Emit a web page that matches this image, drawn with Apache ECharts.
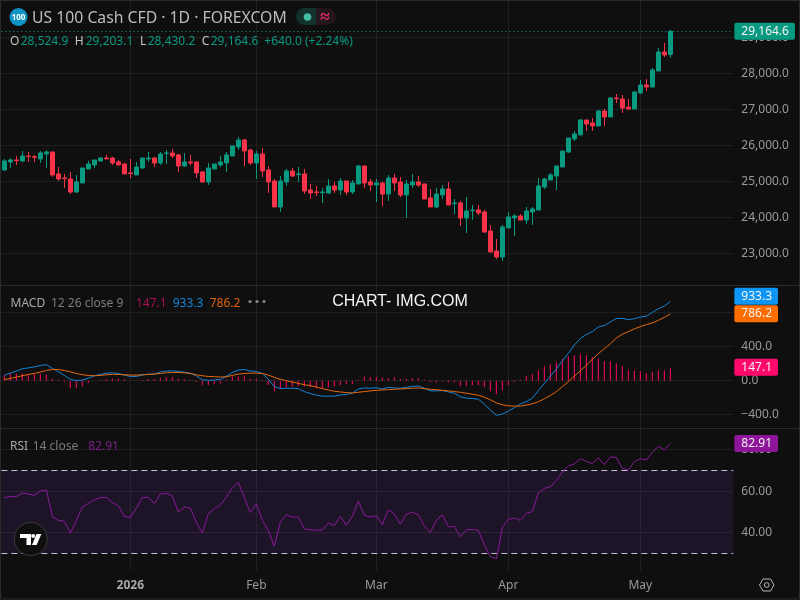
<!DOCTYPE html>
<html>
<head>
<meta charset="utf-8">
<style>html,body{margin:0;padding:0;background:#0f0f0f}#c{width:800px;height:600px}</style>
<script src="https://cdn.jsdelivr.net/npm/echarts@6/dist/echarts.min.js"></script>
</head>
<body>
<div id="c"></div>
<script>
// [open, close, low, high]
const candles = [
[25315,25565,25287,25620],[25537,25593,25370,25648],[25593,25574,25454,25704],[25565,25704,25537,25843],[25704,25685,25537,25815],
[25685,25667,25537,25732],[25620,25787,25509,25843],[25759,25815,25370,25861],[25815,25176,25120,25815],[25204,25065,25009,25398],
[25093,25074,24815,25204],[25065,24704,24648,25259],[24704,24982,24676,25176],[24954,25370,24954,25370],[25343,25482,25343,25565],
[25454,25593,25370,25593],[25565,25648,25565,25676],[25648,25620,25620,25732],[25648,25509,25454,25676],[25537,25454,25454,25593],
[25482,25204,25204,25509],[25232,25213,25093,25620],[25176,25398,25176,25537],[25370,25648,25343,25648],[25620,25648,25537,25815],
[25648,25509,25398,25676],[25509,25759,25454,25815],[25769,25787,25482,25870],[25787,25704,25648,25898],[25732,25426,25259,25759],
[25426,25537,25398,25787],[25537,25509,25454,25732],[25537,25232,25093,25537],[25259,24982,24954,25287],[24982,25370,24898,25509],
[25343,25482,25343,25482],[25454,25537,25398,25704],[25509,25732,25259,25815],[25704,25982,25704,25982],[25954,26148,25870,26232],
[26148,25843,25426,26176],[25870,25509,25454,25898],[25509,25759,25065,25843],[25759,25287,25120,25926],[25315,24981,24676,25426],
[25009,24287,24287,25065],[24287,25009,24148,25148],[24981,25287,24870,25343],[25287,25148,25120,25370],[25185,25204,24981,25398],
[25204,24731,24648,25343],[24759,24676,24509,24926],[24704,24685,24592,24870],[24685,24704,24398,24815],[24676,24870,24648,25065],
[24870,24759,24676,24981],[24759,25009,24620,25092],[25009,24704,24620,25009],[24704,24954,24648,25037],[24926,25426,24926,25454],
[25426,24954,24815,25426],[24981,24898,24731,25065],[24898,24954,24426,25065],[24954,24648,24315,24981],[24648,25092,24454,25176],
[25092,24954,24731,25204],[24981,24620,24565,25120],[24620,24926,23981,25037],[24898,24981,24815,25204],[24981,24898,24843,25148],
[24926,24509,24509,24926],[24537,24287,24287,24787],[24287,24648,24259,24815],[24620,24787,24509,24898],[24787,24342,24342,24981],
[24380,24398,24092,24509],[24398,23981,23759,24454],[23981,24176,23565,24565],[24185,24204,23926,24342],[24204,24120,24065,24342],
[24148,23592,23565,24204],[23620,23037,23037,23787],[23065,22898,22843,23398],[22898,23731,22787,23787],[23704,24009,23704,24148],
[23981,24037,23481,24092],[24037,23925,23925,24092],[23925,24175,23814,24287],[24148,24231,23787,24287],[24203,24870,24203,25092],
[24842,25064,24787,25092],[25037,25176,25037,25231],[25148,25426,24759,25426],[25398,25842,25398,25842],[25814,26203,25787,26203],
[26176,26314,26120,26398],[26287,26703,26287,26731],[26703,26592,26398,26703],[26620,26537,26398,26759],[26537,26953,26537,26981],
[26953,26787,26537,27009],[26787,27314,26787,27342],[27314,27296,27176,27425],[27287,27037,26898,27398],[27064,27009,26981,27287],
[27009,27481,27009,27509],[27453,27676,27425,27814],[27676,27620,27509,27842],[27620,28092,27620,28148],[28064,28592,28064,28703],
[28592,28509,28453,28842],[28524.9,29164.6,28430.2,29203.1]
];
const macdLine = [66,89,113,140,151,163,178,190,144,105,62,16,0,8,31,58,74,89,93,85,66,50,50,66,78,78,101,113,116,109,101,89,58,12,4,8,16,50,97,124,132,113,109,85,16,-70,-93,-89,-89,-93,-128,-151,-171,-182,-182,-182,-167,-163,-147,-97,-85,-89,-81,-97,-78,-85,-89,-78,-66,-62,-89,-120,-120,-116,-132,-147,-190,-206,-210,-217,-275,-345,-407,-392,-357,-318,-275,-244,-206,-116,-31,54,136,233,322,419,497,543,578,632,648,691,733,733,718,729,749,760,803,846,877,933.3];
const signalLine = [12,27,43,58,74,85,101,120,132,132,120,105,85,70,62,58,62,70,74,74,70,66,66,70,74,78,85,93,97,97,93,85,70,58,50,47,43,47,62,78,85,89,89,85,66,39,16,0,-16,-31,-47,-58,-74,-93,-109,-124,-132,-140,-144,-136,-128,-120,-113,-109,-105,-101,-97,-93,-89,-85,-93,-101,-105,-113,-120,-128,-136,-147,-159,-171,-194,-225,-260,-283,-295,-299,-299,-287,-272,-248,-213,-175,-128,-70,-12,54,116,182,252,318,376,435,501,547,578,609,636,660,679,710,745,786.2];
const macdHist = [66,81,85,85,78,78,78,74,23,12,-12,-85,-85,-66,-27,-4,8,19,27,27,16,-4,-4,8,19,19,35,43,43,27,16,8,-16,-54,-54,-39,-35,12,47,50,58,23,23,4,-50,-120,-97,-81,-70,-62,-70,-78,-89,-89,-78,-66,-54,-43,-39,8,50,43,43,39,31,43,19,23,31,31,12,-19,-23,-12,-19,-23,-66,-62,-54,-50,-78,-124,-155,-113,-54,-16,12,54,78,120,171,190,213,252,287,299,310,299,275,264,229,229,206,171,124,113,109,89,101,120,124,147.1];
const rsiLine = [56.9,57.4,57.4,59.0,58.6,57.9,60.0,60.5,47.8,45.9,45.5,39.9,45.9,52.3,54.1,55.8,56.9,56.9,54.5,52.9,47.8,47.3,51.8,56.9,57.1,54.0,58.6,59.0,57.6,50.0,52.3,51.8,45.0,39.9,49.1,51.6,53.2,57.1,61.6,64.2,56.9,49.7,53.9,45.9,41.0,33.5,45.2,48.6,47.5,47.6,41.8,41.4,41.2,41.4,44.7,43.4,47.9,43.6,47.9,55.2,48.4,47.5,48.1,43.9,51.0,49.1,44.1,48.9,49.9,48.6,43.3,40.2,45.9,48.6,42.8,43.1,38.0,41.4,41.5,41.2,34.3,28.6,27.5,42.5,46.5,47.0,45.9,49.2,50.2,59.0,61.3,62.1,65.1,69.2,72.1,73.0,75.6,74.3,73.2,76.1,72.7,76.4,76.2,70.9,70.1,74.1,75.6,75.0,78.6,81.5,79.9,82.91];
const slotCount = 122;
const tickIndex = [21,42,62,84,106];
const tickLabels = ['2026','Feb','Mar','Apr','May'];
const lastClose = 29164.6, lastHist = 147.1, lastMacd = 933.3, lastSignal = 786.2, lastRsi = 82.91;

const BG='#0f0f0f', GRID='#1f1f1f', SEP='#2b2b2b', AXT='#9a9a9a', UP='#089981', DOWN='#f7334a';
const FONT='"Noto Sans"';
const categories = Array.from({length:slotCount},(_,i)=>{const k=tickIndex.indexOf(i);return k>=0?tickLabels[k]:'';});
const isTick = i=>tickIndex.includes(i);
const L=1.33, W=732;
const CLEAR='rgba(0,0,0,0)';

function yAx(idx,min,max,interval,fmt){
  return {gridIndex:idx,type:'value',min,max,interval,position:'right',scale:false,
    axisLine:{show:false},axisTick:{show:false},
    splitLine:{show:true,showMinLine:false,showMaxLine:false,lineStyle:{color:GRID,width:1}},
    axisLabel:{showMinLabel:false,showMaxLabel:false,color:AXT,fontFamily:FONT,fontSize:12,margin:8,align:'left',padding:[0,0,3,0],formatter:fmt}};
}
function tagItem(val,text,color,offsetY){
  return {yAxis:val,lineStyle:{color:CLEAR,width:1},
    label:{show:true,position:'end',distance:1,formatter:text,color:'#f2f2f2',backgroundColor:color,
      fontFamily:FONT,fontSize:12,lineHeight:13,padding:[2,6,2,7],borderRadius:2,offset:[0,offsetY||0]}};
}
function tag(val,text,color,offsetY){
  return {silent:true,symbol:'none',animation:false,precision:2,data:[tagItem(val,text,color,offsetY)]};
}
function txt(x,y,text,fill,extra){
  return {type:'text',z:50,silent:true,style:Object.assign({x,y:y+1.2,text,fill,font:'12px '+FONT,verticalAlign:'middle'},extra||{})};
}

const priceTag = tag(lastClose,'29,164.6',UP,0);
priceTag.data[0].lineStyle = {type:[1,3],color:'#1fa58f',width:1};

const option = {
  animation:false,
  backgroundColor:BG,
  grid:[
    {left:L,width:W,top:1.3,height:288},
    {left:L,width:W,top:278.7,height:170},
    {left:L,width:W,top:407.9,height:166.4},
    {left:L+3,width:W-6,top:0,height:571}
  ],
  xAxis:[0,1,2].map(g=>({gridIndex:g,type:'category',data:categories,show:false,boundaryGap:true}))
    .concat([{gridIndex:3,type:'category',data:categories,boundaryGap:false,
      axisLine:{show:false},axisTick:{show:false},
      splitLine:{show:true,interval:i=>isTick(i),lineStyle:{color:GRID,width:1}},
      axisLabel:{interval:i=>isTick(i),color:AXT,fontFamily:FONT,fontSize:12,margin:9,
        formatter:v=>v==='2026'?'{b|2026}':v,rich:{b:{fontWeight:'bold',fontSize:12,color:'#a8a8a8',fontFamily:FONT}}}}]),
  yAxis:[
    yAx(0,22000,30000,1000,v=>v.toLocaleString('en-US',{minimumFractionDigits:1,maximumFractionDigits:1})),
    yAx(1,-800,1200,400,v=>(v<0?'\u2212':'')+Math.abs(v).toFixed(1)),
    yAx(2,20,100,20,v=>v.toFixed(2)),
    {gridIndex:3,type:'value',min:0,max:1,show:false}
  ],
  series:[
    {type:'candlestick',xAxisIndex:0,yAxisIndex:0,data:candles,barWidth:5,clip:false,
      itemStyle:{color:UP,color0:DOWN,borderColor:UP,borderColor0:DOWN,borderWidth:1},
      markLine:priceTag},
    {type:'bar',xAxisIndex:1,yAxisIndex:1,data:macdHist,barWidth:1,itemStyle:{color:'#ff0a6c'},
      markLine:tag(lastHist,'147.1','#ff0a6c',-1)},
    {type:'line',xAxisIndex:1,yAxisIndex:1,data:macdLine,showSymbol:false,lineStyle:{color:'#1384d8',width:1},
      markLine:tag(lastMacd,'933.3','#0d96f5',-5)},
    {type:'line',xAxisIndex:1,yAxisIndex:1,data:signalLine,showSymbol:false,lineStyle:{color:'#e8690b',width:1},
      markLine:tag(lastSignal,'786.2','#ff6d00',0)},
    {type:'line',xAxisIndex:2,yAxisIndex:2,data:rsiLine,showSymbol:false,z:5,lineStyle:{color:'#8a1a9a',width:1},
      markArea:{silent:true,itemStyle:{color:'rgba(126,60,190,0.14)'},data:[[{yAxis:70},{yAxis:30}]]},
      markLine:{silent:true,symbol:'none',animation:false,precision:2,label:{show:false},
        lineStyle:{type:[6,4],color:'#c9bcd2',width:1},
        data:[{yAxis:70},{yAxis:30},tagItem(lastRsi,'82.91','#8e1599',0)]}}
  ],
  graphic:[
    {type:'line',z:40,silent:true,shape:{x1:0,y1:285.5,x2:800,y2:285.5},style:{stroke:SEP,lineWidth:1}},
    {type:'line',z:40,silent:true,shape:{x1:0,y1:428.5,x2:800,y2:428.5},style:{stroke:SEP,lineWidth:1}},
    {type:'rect',z:40,silent:true,shape:{x:0.5,y:0.5,width:799,height:598.5},style:{fill:'none',stroke:SEP,lineWidth:1}},
    {type:'circle',z:50,silent:true,shape:{cx:18.5,cy:17,r:9},style:{fill:'#0f93c4'}},
    txt(18.5,16.5,'100','#ffffff',{font:'bold 8px '+FONT,align:'center'}),
    txt(32,17,'US 100 Cash CFD \u00b7 1D \u00b7 FOREXCOM','#bdbdbd',{font:'15.75px '+FONT}),
    {type:'rect',z:50,silent:true,shape:{x:296,y:8,width:20,height:17,r:[8.5,0,0,8.5]},style:{fill:'#13322d'}},
    {type:'rect',z:50,silent:true,shape:{x:316,y:8,width:20,height:17,r:[0,8.5,8.5,0]},style:{fill:'#24161c'}},
    {type:'circle',z:51,silent:true,shape:{cx:307.5,cy:17,r:3.8},style:{fill:'#42bda2'}},
    txt(325,16,'\u2248','#ff2d6e',{font:'bold 17px '+FONT,align:'center'}),
    txt(10,40,'O','#c4c4c4'),txt(20.7,40,'28,524.9',UP),
    txt(74.7,40,'H','#c4c4c4'),txt(85.7,40,'29,203.1',UP),
    txt(140,40,'L','#c4c4c4'),txt(147.7,40,'28,430.2',UP),
    txt(201.7,40,'C','#c4c4c4'),txt(210.7,40,'29,164.6',UP),
    txt(264.3,40,'+640.0 (+2.24%)',UP),
    txt(10.5,302,'MACD','#a8a8a8'),txt(51,302,'12 26 close 9','#7c7c7c'),
    txt(136,302,'147.1','#a80f55'),txt(172.7,302,'933.3','#1384d8'),txt(209.7,302,'786.2','#e0640c'),
    {type:'circle',z:50,silent:true,shape:{cx:250,cy:301.5,r:1.6},style:{fill:'#8a8a8a'}},
    {type:'circle',z:50,silent:true,shape:{cx:257,cy:301.5,r:1.6},style:{fill:'#8a8a8a'}},
    {type:'circle',z:50,silent:true,shape:{cx:264,cy:301.5,r:1.6},style:{fill:'#8a8a8a'}},
    txt(400,300,'CHART- IMG.COM','#f4f4f4',{font:'16px "Liberation Sans"',align:'center'}),
    txt(10,445.7,'RSI','#a8a8a8'),txt(32.7,445.7,'14 close','#7c7c7c'),txt(88.3,445.7,'82.91','#7b1f8a'),
    {type:'circle',z:50,silent:true,shape:{cx:30.7,cy:539,r:16.5},style:{fill:'#0f0f0f',stroke:'#3a3a3a',lineWidth:1}},
    {type:'polygon',z:51,silent:true,shape:{points:[[20,534],[31,534],[31,545],[26.5,545],[26.5,538],[20,538]]},style:{fill:'#ffffff'}},
    {type:'circle',z:51,silent:true,shape:{cx:33.2,cy:536,r:2},style:{fill:'#ffffff'}},
    {type:'polygon',z:51,silent:true,shape:{points:[[36.5,534],[41.3,534],[36.7,545],[32,545]]},style:{fill:'#ffffff'}},
    {type:'polygon',z:50,silent:true,shape:{points:[[759.5,585],[763,579],[770.5,579],[774,585],[770.5,591],[763,591]]},style:{fill:'none',stroke:'#b8b8b8',lineWidth:1}},
    {type:'circle',z:50,silent:true,shape:{cx:766.7,cy:585,r:2.4},style:{fill:'none',stroke:'#b8b8b8',lineWidth:1}}
  ]
};
const chart = echarts.init(document.getElementById('c'),null,{renderer:'canvas'});
chart.setOption(option);
</script>
</body>
</html>
